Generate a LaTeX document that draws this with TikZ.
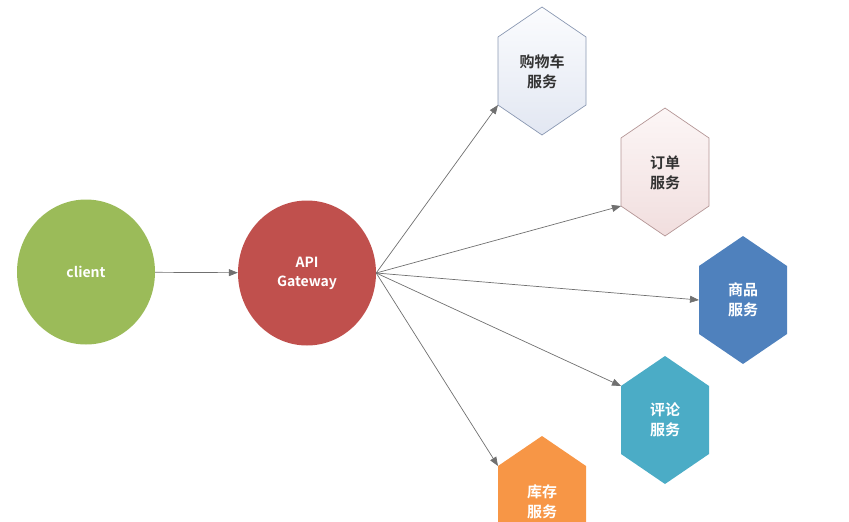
\documentclass[tikz,border=0pt]{standalone}
\usepackage{fontspec}
\setmainfont{Noto Sans CJK SC}[BoldFont={* Bold}]
\usetikzlibrary{arrows.meta}
\definecolor{cgreen}{HTML}{9BBB59}
\definecolor{cred}{HTML}{C0504D}
\definecolor{cblue}{HTML}{4F81BD}
\definecolor{cteal}{HTML}{4BACC6}
\definecolor{corange}{HTML}{F79646}
\definecolor{cartA}{HTML}{FBFCFE}
\definecolor{cartB}{HTML}{E2E7F2}
\definecolor{cartD}{HTML}{8A98B2}
\definecolor{ordA}{HTML}{FCF6F6}
\definecolor{ordB}{HTML}{F1DEDE}
\definecolor{ordD}{HTML}{B49696}
\definecolor{linegray}{HTML}{707070}
\definecolor{txtdark}{HTML}{333333}
\tikzset{
  circnode/.style={ellipse, minimum width=138pt, minimum height=145pt, inner sep=0pt,
    text=white, font=\fontsize{14}{19}\selectfont\bfseries, align=center},
  hexlabel/.style={text=white, font=\fontsize{15}{20}\selectfont\bfseries, align=center, inner sep=0pt},
  conn/.style={draw=linegray, line width=0.7pt, -{Triangle[length=9pt,width=7pt]}}
}
\usetikzlibrary{shapes.geometric}
% \hexa{name}{cx}{cy}{fill options}
\newcommand{\hexa}[4]{%
  \path[#4] (#2-44,#3-34) -- (#2,#3-64) -- (#2+44,#3-34) -- (#2+44,#3+34)
     -- (#2,#3+64) -- (#2-44,#3+34) -- cycle;
  \coordinate (#1-ul) at (#2-44,#3-34);
  \coordinate (#1-ll) at (#2-44,#3+34);
  \coordinate (#1-l) at (#2-44,#3);
}
\begin{document}
\begin{tikzpicture}[x=1pt,y=-1pt]
\useasboundingbox (0,0) rectangle (849,522);
\begin{scope}
\clip (0,0) rectangle (849,522);
\node[circnode, fill=cgreen] (client) at (86,272) {client};
\node[circnode, fill=cred] (gw) at (307,273) {API\\Gateway};

\hexa{cart}{542}{71}{draw=cartD, line width=0.7pt, top color=cartA, bottom color=cartB}
\node[hexlabel, text=txtdark] (cartt) at (542,72) {购物车\\服务};
\hexa{order}{665}{172}{draw=ordD, line width=0.7pt, top color=ordA, bottom color=ordB}
\node[hexlabel, text=txtdark] (ordert) at (665,173) {订单\\服务};
\hexa{goods}{743}{300}{fill=cblue}
\node[hexlabel] (goodst) at (743,300) {商品\\服务};
\hexa{cmt}{665}{420}{fill=cteal}
\node[hexlabel] (cmtt) at (665,420) {评论\\服务};
\hexa{inv}{542}{500}{fill=corange}
\node[hexlabel] (invt) at (542,502) {库存\\服务};

\draw[conn] (client) -- (gw);
\draw[conn] (gw.east) -- (cart-ll);
\draw[conn] (gw.east) -- (order-ll);
\draw[conn] (gw.east) -- (goods-l);
\draw[conn] (gw.east) -- (cmt-ul);
\draw[conn] (gw.east) -- (inv-ul);
\end{scope}
\end{tikzpicture}
\end{document}
